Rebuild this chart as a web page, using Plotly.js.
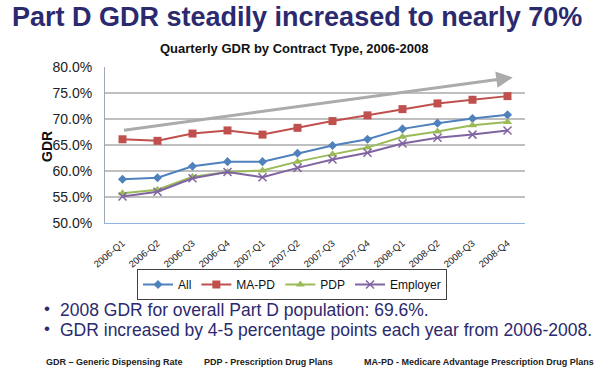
<!DOCTYPE html>
<html>
<head>
<meta charset="utf-8">
<script src="https://cdn.plot.ly/plotly-3.0.1.min.js"></script>
<style>
html,body{margin:0;padding:0;background:#fff;}
#chart{width:600px;height:372px;}
</style>
</head>
<body>
<div id="chart"></div>
<script>
// ---- data ----
const quarters = ["2006-Q1","2006-Q2","2006-Q3","2006-Q4","2007-Q1","2007-Q2","2007-Q3","2007-Q4","2008-Q1","2008-Q2","2008-Q3","2008-Q4"];
const allValues      = [58.4, 58.7, 60.9, 61.8, 61.8, 63.4, 64.9, 66.1, 68.1, 69.2, 70.1, 70.8];
const mapdValues     = [66.1, 65.8, 67.2, 67.8, 67.0, 68.3, 69.6, 70.7, 71.9, 73.0, 73.7, 74.4];
const pdpValues      = [55.7, 56.4, 58.9, 59.8, 60.1, 61.8, 63.2, 64.5, 66.6, 67.6, 68.8, 69.4];
const employerValues = [55.1, 56.0, 58.6, 59.8, 58.8, 60.6, 62.2, 63.5, 65.3, 66.4, 67.0, 67.8];
const seriesNames = ["All","MA-PD","PDP","Employer"];
const yTickValues = [50, 55, 60, 65, 70, 75, 80];
// trend arrow (category index, percent)
const arrowStart = [0, 67.8];
const arrowEnd   = [11.15, 78.0];

const titleText = "Part D GDR steadily increased to nearly 70%";
const subtitleText = "Quarterly GDR by Contract Type, 2006-2008";
const bullet1 = "2008 GDR for overall Part D population: 69.6%.";
const bullet2 = "GDR increased by 4-5 percentage points each year from 2006-2008.";
const footnotes = ["GDR – Generic Dispensing Rate", "PDP - Prescription Drug Plans", "MA-PD - Medicare Advantage Prescription Drug Plans"];

// ---- layout helpers (pixel -> paper) ----
const W = 600, H = 372;
const M = {l:105, r:75, t:67, b:149};
const pw = W - M.l - M.r, ph = H - M.t - M.b;
const px = x => (x - M.l) / pw;
const py = y => (H - M.b - y) / ph;

const colors = ["#4F81BD", "#C0504D", "#9BBB59", "#8064A2"];
const symbols = ["diamond", "square", "triangle-up", "x-thin-open"];
const sizes = [7, 8, 8, 8];
const values = [allValues, mapdValues, pdpValues, employerValues];

const traces = seriesNames.map((name, i) => ({
  type: "scatter",
  mode: "lines+markers",
  name: name,
  x: quarters,
  y: values[i],
  line: {color: colors[i], width: 2},
  marker: {symbol: symbols[i], size: sizes[i], color: colors[i],
           line: {color: colors[i], width: i === 3 ? 1.5 : 0}},
  hoverinfo: "x+y+name"
}));

const navy = "#2B2A6E";
const footFont = {family: "Liberation Sans, Arial, sans-serif", size: 9, color: "#222"};
const annotations = [
  {text: "<b>" + titleText + "</b>", x: px(297), y: py(17), xref: "paper", yref: "paper",
   xanchor: "center", yanchor: "middle", showarrow: false,
   font: {family: "Liberation Sans, Arial, sans-serif", size: 27, color: navy}},
  {text: "<b>" + subtitleText + "</b>", x: px(294), y: py(49), xref: "paper", yref: "paper",
   xanchor: "center", yanchor: "middle", showarrow: false,
   font: {family: "Liberation Sans, Arial, sans-serif", size: 13, color: "#111"}},
  {text: "<b>GDR</b>", x: px(47), y: py(146), xref: "paper", yref: "paper", textangle: -90,
   xanchor: "center", yanchor: "middle", showarrow: false,
   font: {family: "Liberation Sans, Arial, sans-serif", size: 14, color: "#111"}},
  {text: "•", x: px(42), y: py(308), xref: "paper", yref: "paper", xanchor: "left", yanchor: "middle",
   showarrow: false, font: {family: "Liberation Sans, Arial, sans-serif", size: 17, color: navy}},
  {text: bullet1, x: px(58), y: py(310), xref: "paper", yref: "paper", xanchor: "left", yanchor: "middle",
   showarrow: false, font: {family: "Liberation Sans, Arial, sans-serif", size: 17.5, color: navy}},
  {text: "•", x: px(42), y: py(328), xref: "paper", yref: "paper", xanchor: "left", yanchor: "middle",
   showarrow: false, font: {family: "Liberation Sans, Arial, sans-serif", size: 17, color: navy}},
  {text: bullet2, x: px(58), y: py(330), xref: "paper", yref: "paper", xanchor: "left", yanchor: "middle",
   showarrow: false, font: {family: "Liberation Sans, Arial, sans-serif", size: 17.5, color: navy}},
  {text: "<b>" + footnotes[0] + "</b>", x: px(44), y: py(362), xref: "paper", yref: "paper", xanchor: "left", yanchor: "middle",
   showarrow: false, font: footFont},
  {text: "<b>" + footnotes[1] + "</b>", x: px(202), y: py(362), xref: "paper", yref: "paper", xanchor: "left", yanchor: "middle",
   showarrow: false, font: footFont},
  {text: "<b>" + footnotes[2] + "</b>", x: px(362), y: py(362), xref: "paper", yref: "paper", xanchor: "left", yanchor: "middle",
   showarrow: false, font: footFont},
  // trend arrow
  {text: "", x: arrowEnd[0], y: arrowEnd[1], xref: "x", yref: "y",
   ax: arrowStart[0], ay: arrowStart[1], axref: "x", ayref: "y",
   showarrow: true, arrowhead: 2, arrowsize: 1.1, arrowwidth: 3, arrowcolor: "#ABABAB"}
];

const layout = {
  width: W, height: H,
  margin: M,
  paper_bgcolor: "#fff", plot_bgcolor: "#fff",
  showlegend: true,
  legend: {orientation: "h", x: px(292), xanchor: "center", y: py(269), yanchor: "top",
           bordercolor: "#404040", borderwidth: 1, bgcolor: "#fff",
           font: {family: "Liberation Sans, Arial, sans-serif", size: 12, color: "#111"},
           itemwidth: 30, tracegroupgap: 0},
  xaxis: {type: "category", tickangle: -40, showgrid: false, zeroline: false,
          showline: true, linecolor: "#8EB4E3", linewidth: 1,
          ticks: "outside", ticklen: 10, tickcolor: "rgba(0,0,0,0)",
          tickfont: {family: "Liberation Sans, Arial, sans-serif", size: 9.5, color: "#222"},
          range: [-0.5, 11.5], fixedrange: true},
  yaxis: {range: [50, 80], tickvals: yTickValues, ticktext: yTickValues.map(v => v.toFixed(1) + "%"),
          showgrid: true, gridcolor: "#BFBFBF", gridwidth: 1.5, zeroline: false,
          showline: true, linecolor: "#A0A8B8", linewidth: 1,
          ticks: "outside", ticklen: 9, tickcolor: "rgba(0,0,0,0)",
          tickfont: {family: "Liberation Sans, Arial, sans-serif", size: 14, color: "#222"},
          fixedrange: true},
  annotations: annotations
};

Plotly.newPlot("chart", traces, layout, {displayModeBar: false, staticPlot: true});
</script>
</body>
</html>
